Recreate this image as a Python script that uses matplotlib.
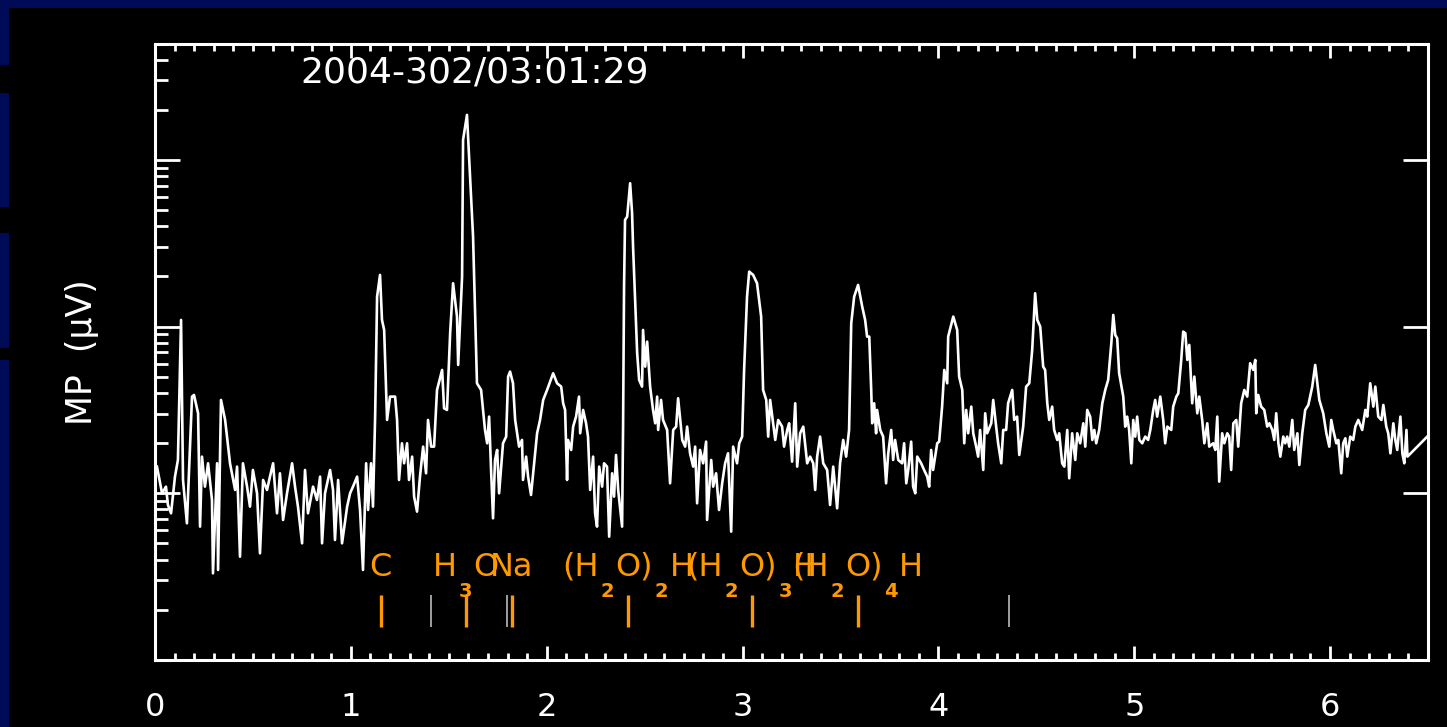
import numpy as np
import matplotlib
matplotlib.use('Agg')
import matplotlib.pyplot as plt
from matplotlib.ticker import LogLocator, MultipleLocator, NullFormatter
from matplotlib.patches import Rectangle
from matplotlib.transforms import offset_copy

# flight time (us) and log10 of the MP amplitude (uV)
t_us = [
    0.010, 0.036, 0.056, 0.066, 0.082, 0.102, 0.117, 0.133, 0.143, 0.163,
    0.189, 0.199, 0.220, 0.230, 0.240, 0.255, 0.271, 0.291, 0.296, 0.317,
    0.322, 0.337, 0.358, 0.383, 0.409, 0.419, 0.434, 0.449, 0.470, 0.485,
    0.500, 0.521, 0.536, 0.552, 0.572, 0.587, 0.603, 0.623, 0.638, 0.654,
    0.674, 0.700, 0.715, 0.730, 0.751, 0.766, 0.781, 0.807, 0.827, 0.843,
    0.853, 0.868, 0.894, 0.909, 0.919, 0.935, 0.955, 0.981, 0.996, 1.011,
    1.032, 1.047, 1.062, 1.078, 1.088, 1.103, 1.113, 1.124, 1.134, 1.149,
    1.159, 1.170, 1.185, 1.200, 1.226, 1.236, 1.246, 1.261, 1.272, 1.287,
    1.297, 1.313, 1.323, 1.338, 1.353, 1.369, 1.384, 1.394, 1.410, 1.425,
    1.440, 1.466, 1.476, 1.491, 1.507, 1.522, 1.542, 1.548, 1.568, 1.573,
    1.593, 1.609, 1.624, 1.644, 1.665, 1.685, 1.696, 1.706, 1.716, 1.726,
    1.736, 1.747, 1.757, 1.777, 1.793, 1.803, 1.813, 1.828, 1.839, 1.859,
    1.874, 1.879, 1.895, 1.905, 1.920, 1.931, 1.951, 1.966, 1.982, 2.002,
    2.033, 2.053, 2.074, 2.084, 2.094, 2.104, 2.109, 2.125, 2.135, 2.150,
    2.165, 2.171, 2.186, 2.201, 2.211, 2.222, 2.237, 2.247, 2.257, 2.268,
    2.283, 2.293, 2.308, 2.319, 2.334, 2.344, 2.354, 2.365, 2.385, 2.390,
    2.395, 2.400, 2.411, 2.426, 2.436, 2.441, 2.462, 2.472, 2.487, 2.492,
    2.503, 2.513, 2.528, 2.543, 2.554, 2.564, 2.569, 2.584, 2.594, 2.615,
    2.630, 2.646, 2.661, 2.671, 2.692, 2.707, 2.717, 2.732, 2.748, 2.758,
    2.768, 2.783, 2.799, 2.814, 2.819, 2.840, 2.850, 2.865, 2.880, 2.896,
    2.911, 2.926, 2.942, 2.952, 2.972, 2.983, 2.998, 3.008, 3.023, 3.034,
    3.054, 3.074, 3.095, 3.105, 3.121, 3.131, 3.141, 3.156, 3.167, 3.182,
    3.202, 3.212, 3.228, 3.238, 3.253, 3.269, 3.279, 3.294, 3.310, 3.330,
    3.345, 3.361, 3.371, 3.381, 3.396, 3.412, 3.432, 3.447, 3.463, 3.483,
    3.498, 3.514, 3.529, 3.544, 3.555, 3.570, 3.590, 3.611, 3.626, 3.636,
    3.647, 3.657, 3.662, 3.672, 3.682, 3.687, 3.703, 3.718, 3.733, 3.744,
    3.759, 3.769, 3.779, 3.795, 3.815, 3.825, 3.836, 3.846, 3.861, 3.871,
    3.882, 3.892, 3.912, 3.927, 3.943, 3.953, 3.963, 3.973, 3.994, 4.004,
    4.019, 4.030, 4.045, 4.050, 4.076, 4.096, 4.106, 4.122, 4.132, 4.142,
    4.152, 4.168, 4.178, 4.193, 4.203, 4.213, 4.229, 4.239, 4.249, 4.270,
    4.280, 4.295, 4.305, 4.321, 4.331, 4.346, 4.356, 4.377, 4.387, 4.402,
    4.413, 4.433, 4.448, 4.464, 4.479, 4.494, 4.505, 4.520, 4.535, 4.545,
    4.556, 4.566, 4.581, 4.591, 4.607, 4.617, 4.632, 4.643, 4.658, 4.668,
    4.683, 4.699, 4.709, 4.724, 4.740, 4.750, 4.760, 4.775, 4.786, 4.796,
    4.806, 4.821, 4.837, 4.852, 4.867, 4.883, 4.893, 4.903, 4.913, 4.923,
    4.944, 4.954, 4.964, 4.974, 4.985, 4.995, 5.005, 5.015, 5.026, 5.041,
    5.056, 5.071, 5.082, 5.097, 5.107, 5.117, 5.133, 5.148, 5.158, 5.169,
    5.189, 5.199, 5.215, 5.225, 5.240, 5.250, 5.261, 5.271, 5.281, 5.296,
    5.307, 5.322, 5.332, 5.347, 5.358, 5.373, 5.383, 5.403, 5.414, 5.424,
    5.434, 5.449, 5.460, 5.475, 5.485, 5.495, 5.506, 5.521, 5.531, 5.546,
    5.562, 5.577, 5.592, 5.608, 5.618, 5.623, 5.633, 5.648, 5.664, 5.679,
    5.690, 5.705, 5.715, 5.725, 5.736, 5.746, 5.761, 5.771, 5.781, 5.792,
    5.807, 5.817, 5.833, 5.843, 5.858, 5.873, 5.889, 5.909, 5.924, 5.935,
    5.945, 5.965, 5.981, 5.996, 6.006, 6.016, 6.032, 6.042, 6.057, 6.067,
    6.078, 6.088, 6.103, 6.118, 6.129, 6.144, 6.164, 6.180, 6.190, 6.205,
    6.221, 6.231, 6.246, 6.262, 6.272, 6.287, 6.297, 6.308, 6.323, 6.333,
    6.343, 6.359, 6.369, 6.379, 6.390, 6.395, 6.496]
log_mp = [
    1.16, 1.00, 1.04, 0.93, 0.88, 1.10, 1.20, 2.04, 1.08, 0.82,
    1.58, 1.59, 1.48, 0.80, 1.22, 1.04, 1.18, 0.96, 0.52, 1.18,
    0.54, 1.56, 1.44, 1.18, 1.02, 1.16, 0.62, 1.18, 1.04, 0.92,
    1.14, 1.00, 0.64, 1.08, 1.02, 1.10, 1.18, 0.88, 1.12, 0.84,
    1.00, 1.18, 1.04, 0.92, 0.70, 1.14, 0.88, 1.04, 0.96, 1.10,
    0.70, 1.00, 1.14, 1.02, 0.72, 1.08, 0.70, 0.92, 1.00, 1.04,
    1.10, 0.90, 0.54, 1.18, 0.90, 1.18, 0.92, 1.46, 2.18, 2.31,
    2.04, 1.98, 1.44, 1.58, 1.58, 1.44, 1.08, 1.30, 1.18, 1.30,
    1.08, 1.22, 0.98, 0.89, 1.10, 1.28, 1.12, 1.44, 1.28, 1.28,
    1.62, 1.74, 1.51, 1.50, 1.96, 2.26, 2.06, 1.77, 2.30, 3.12,
    3.27, 2.90, 2.54, 1.66, 1.62, 1.38, 1.30, 1.46, 1.14, 0.85,
    1.20, 1.26, 1.00, 1.30, 1.34, 1.70, 1.73, 1.66, 1.44, 1.28,
    1.32, 1.08, 1.22, 1.10, 0.99, 1.12, 1.36, 1.44, 1.56, 1.62,
    1.72, 1.66, 1.64, 1.54, 1.50, 1.08, 1.32, 1.26, 1.40, 1.46,
    1.58, 1.36, 1.50, 1.42, 1.34, 1.02, 1.22, 0.88, 0.80, 1.16,
    1.04, 1.18, 1.16, 0.74, 1.12, 0.98, 1.23, 1.02, 0.80, 1.40,
    2.24, 2.64, 2.66, 2.86, 2.68, 2.48, 1.84, 1.68, 1.64, 1.98,
    1.76, 1.91, 1.64, 1.50, 1.42, 1.58, 1.38, 1.56, 1.44, 1.38,
    1.06, 1.38, 1.40, 1.57, 1.32, 1.28, 1.40, 1.24, 1.16, 1.28,
    0.94, 1.26, 1.18, 1.31, 0.84, 1.20, 1.04, 1.12, 0.90, 1.06,
    1.18, 1.24, 0.77, 1.28, 1.18, 1.30, 1.34, 1.74, 2.18, 2.33,
    2.31, 2.26, 2.06, 1.62, 1.56, 1.34, 1.56, 1.42, 1.32, 1.44,
    1.40, 1.28, 1.38, 1.42, 1.19, 1.54, 1.16, 1.36, 1.40, 1.18,
    1.22, 1.18, 1.02, 1.22, 1.34, 1.18, 1.14, 0.93, 1.16, 0.91,
    1.18, 1.32, 1.22, 1.38, 2.02, 2.18, 2.25, 2.12, 2.04, 1.94,
    1.94, 1.62, 1.42, 1.54, 1.36, 1.50, 1.38, 1.34, 1.06, 1.24,
    1.38, 1.20, 1.32, 1.20, 1.18, 1.30, 1.06, 1.14, 1.31, 1.04,
    1.00, 1.22, 1.18, 1.14, 1.10, 1.04, 1.26, 1.14, 1.30, 1.31,
    1.52, 1.74, 1.66, 1.94, 2.06, 1.98, 1.70, 1.62, 1.30, 1.50,
    1.36, 1.52, 1.36, 1.28, 1.22, 1.38, 1.14, 1.48, 1.36, 1.42,
    1.56, 1.40, 1.30, 1.18, 1.38, 1.38, 1.54, 1.62, 1.44, 1.46,
    1.23, 1.40, 1.64, 1.66, 1.86, 2.20, 2.04, 2.00, 1.76, 1.74,
    1.54, 1.44, 1.52, 1.38, 1.32, 1.36, 1.18, 1.16, 1.38, 1.09,
    1.36, 1.20, 1.36, 1.30, 1.42, 1.28, 1.50, 1.46, 1.32, 1.38,
    1.30, 1.38, 1.54, 1.62, 1.68, 1.90, 2.07, 1.95, 1.93, 1.72,
    1.58, 1.40, 1.46, 1.38, 1.18, 1.44, 1.34, 1.46, 1.32, 1.30,
    1.34, 1.32, 1.38, 1.50, 1.56, 1.46, 1.58, 1.44, 1.30, 1.40,
    1.38, 1.52, 1.58, 1.60, 1.80, 1.97, 1.96, 1.80, 1.89, 1.54,
    1.70, 1.48, 1.58, 1.44, 1.30, 1.42, 1.28, 1.30, 1.26, 1.46,
    1.07, 1.36, 1.30, 1.36, 1.34, 1.14, 1.42, 1.44, 1.28, 1.54,
    1.62, 1.58, 1.78, 1.74, 1.80, 1.48, 1.59, 1.52, 1.50, 1.40,
    1.42, 1.38, 1.32, 1.48, 1.30, 1.22, 1.34, 1.30, 1.34, 1.28,
    1.44, 1.26, 1.36, 1.17, 1.36, 1.50, 1.53, 1.64, 1.77, 1.66,
    1.56, 1.48, 1.36, 1.28, 1.44, 1.38, 1.30, 1.32, 1.12, 1.30,
    1.33, 1.22, 1.34, 1.32, 1.40, 1.44, 1.38, 1.50, 1.46, 1.66,
    1.52, 1.64, 1.46, 1.44, 1.53, 1.40, 1.36, 1.24, 1.42, 1.32,
    1.26, 1.46, 1.24, 1.18, 1.38, 1.22, 1.34]

# expected ion arrival times (us); labels split in (text, is_subscript) pieces
ion_labels = [
    [('C', 0)],
    [('H', 0), ('3', 1), ('O', 0)],
    [('Na', 0)],
    [('(H', 0), ('2', 1), ('O)', 0), ('2', 1), ('H', 0)],
    [('(H', 0), ('2', 1), ('O)', 0), ('3', 1), ('H', 0)],
    [('(H', 0), ('2', 1), ('O)', 0), ('4', 1), ('H', 0)],
]
ion_t = [1.153, 1.588, 1.823, 2.414, 3.047, 3.588]
other_t = [1.409, 1.798, 4.362]

title = '2004-302/03:01:29'
ylabel = u'MP  (\u03bcV)'
xticks = [0, 1, 2, 3, 4, 5, 6]

W, H = 1447, 727
orange = '#ff9900'
navy = '#000b58'

plt.rc('font', family='DejaVu Sans')

fig = plt.figure(figsize=(W / 100., H / 100.), dpi=100, facecolor='black')

# slide background strips
def strip(x0, y0, x1, y1):
    fig.add_artist(Rectangle((x0 / W, 1 - y1 / H), (x1 - x0) / W, (y1 - y0) / H,
                             transform=fig.transFigure, color=navy, lw=0))
strip(0, 0, W, 8)
strip(0, 0, 9, 65)
strip(0, 93, 9, 207)
strip(0, 233, 9, 348)
strip(0, 360, 9, H)

ax = fig.add_axes([155. / W, 67. / H, 1273. / W, 616. / H])
ax.set_facecolor('black')

ax.plot(t_us, 10 ** np.array(log_mp), color='white', lw=1.9, zorder=3)

ax.set_yscale('log')
ax.set_xlim(0, 6.5)
ax.set_ylim(1, 10 ** (616 / 166.7))

# ion markers
lo, hi = 10 ** 0.2, 10 ** 0.39
ax.vlines(other_t, lo, hi, color='#bbbbbb', lw=1.2, zorder=2)
ax.vlines(ion_t, lo, hi, color=orange, lw=2.4, zorder=2)

# chemical labels with dropped subscripts, centred on the marker
r = fig.canvas.get_renderer()
ylab = 10 ** 0.505
for parts, t in zip(ion_labels, ion_t):
    pieces = []
    for s, sub in parts:
        tx = ax.text(t, ylab, s, color=orange, fontsize=14 if sub else 23,
                     fontweight='bold' if sub else 'normal',
                     ha='left', va='baseline', zorder=4)
        pieces.append((tx, tx.get_window_extent(r).width + (3 if sub else 0), sub))
    cur = -sum(p[1] for p in pieces) / 2.
    for tx, w, sub in pieces:
        tx.set_transform(offset_copy(ax.transData, fig, x=cur + (1.5 if sub else 0),
                                     y=-21 if sub else 0, units='dots'))
        cur += w

ax.text(0.114, 0.937, title, transform=ax.transAxes, color='white', fontsize=26, va='baseline')
fig.text(82. / W, 1 - 352. / H, ylabel, rotation=90, ha='center', va='center',
         color='white', fontsize=25)

for s in ax.spines.values():
    s.set_color('white')
    s.set_linewidth(2.2)

ax.set_xticks(xticks)
ax.xaxis.set_minor_locator(MultipleLocator(0.1))
ax.yaxis.set_major_locator(LogLocator(base=10))
ax.yaxis.set_minor_locator(LogLocator(base=10, subs=np.arange(2, 10)))
ax.yaxis.set_major_formatter(NullFormatter())
ax.yaxis.set_minor_formatter(NullFormatter())

ax.tick_params(which='both', direction='in', color='white', width=2,
               top=True, right=True, labelcolor='white')
ax.tick_params(axis='x', which='major', length=10, labelsize=23, pad=23)
ax.tick_params(axis='x', which='minor', length=5)
ax.tick_params(axis='y', which='major', length=18)
ax.tick_params(axis='y', which='minor', length=9, right=False)

fig.savefig('out.png', dpi=100, facecolor='black')
